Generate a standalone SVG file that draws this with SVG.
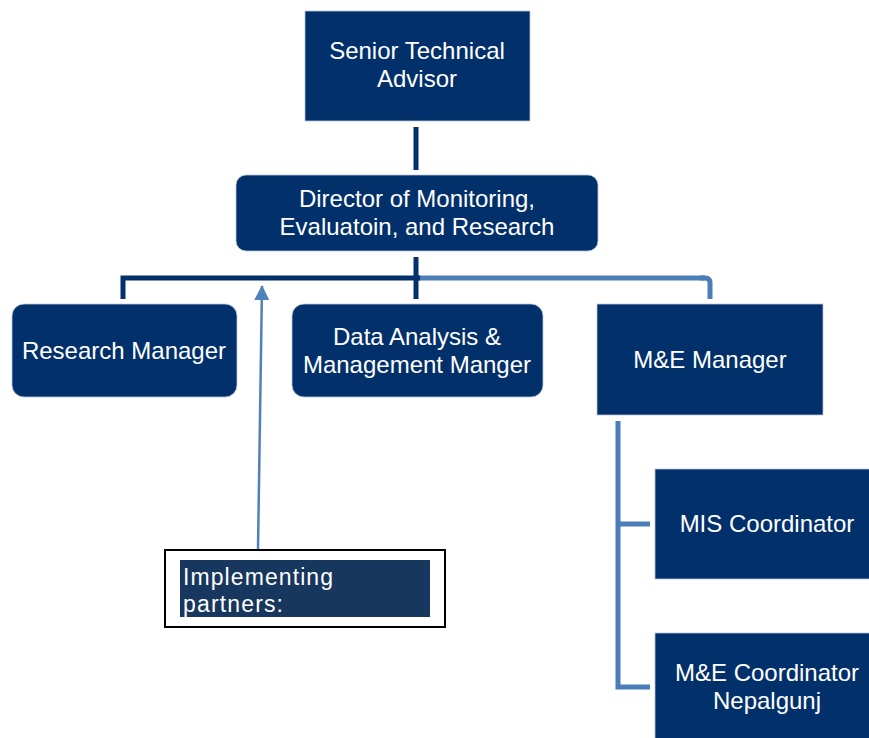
<svg xmlns="http://www.w3.org/2000/svg" width="869" height="738" viewBox="0 0 869 738">
  <style>
    .box { fill: #02306a; stroke: #b8c6da; stroke-width: 0.8; }
    .lbl { font-family: "Liberation Sans", Arial, sans-serif; font-size: 24px; fill: #ffffff; text-anchor: middle; }
    .note { font-family: "Liberation Sans", Arial, sans-serif; font-size: 23px; fill: #ffffff; }
    .dark { fill: none; stroke: #02306a; stroke-width: 5; }
    .light { fill: none; stroke: #4b7db8; stroke-width: 5; }
  </style>
  <defs>
    <marker id="head" markerWidth="15" markerHeight="15" refX="14" refY="7.5" orient="auto" markerUnits="userSpaceOnUse">
      <path d="M0,0 L15,7.5 L0,15 Z" fill="#4f81bd"/>
    </marker>
  </defs>
  <rect width="869" height="738" fill="#ffffff"/>

  <!-- connectors -->
  <g id="connectors">
    <line class="dark" x1="416" y1="127" x2="416" y2="170"/>
    <line class="light" x1="416" y1="278" x2="705" y2="278"/>
    <path class="light" d="M700,278 L705,278 Q710,278 710,283 L710,299" stroke-linejoin="round"/>
    <path class="dark" d="M123,299 L123,278 L420,278"/>
    <line class="dark" x1="416" y1="257" x2="416" y2="299"/>
    <path class="light" d="M650,524 L618,524 M618,421 L618,687 L650,687"/>
    <line x1="258" y1="549" x2="262" y2="286" stroke="#4f81bd" stroke-width="2.5" marker-end="url(#head)"/>
  </g>

  <g id="senior-technical-advisor">
    <rect class="box" x="305" y="11" width="225" height="110"/>
    <text class="lbl" x="417" y="59">Senior Technical</text>
    <text class="lbl" x="417" y="87">Advisor</text>
  </g>

  <g id="director">
    <rect class="box" x="236" y="175" width="362" height="76" rx="10"/>
    <text class="lbl" x="417" y="207">Director of Monitoring,</text>
    <text class="lbl" x="417" y="235">Evaluatoin, and Research</text>
  </g>

  <g id="research-manager">
    <rect class="box" x="12" y="304" width="225" height="93" rx="12"/>
    <text class="lbl" x="124" y="359">Research Manager</text>
  </g>

  <g id="data-analysis-manager">
    <rect class="box" x="292" y="304" width="251" height="93" rx="12"/>
    <text class="lbl" x="417" y="345">Data Analysis &amp;</text>
    <text class="lbl" x="417" y="373">Management Manger</text>
  </g>

  <g id="me-manager">
    <rect class="box" x="597" y="304" width="226" height="111"/>
    <text class="lbl" x="710" y="368">M&amp;E Manager</text>
  </g>

  <g id="mis-coordinator">
    <rect class="box" x="655" y="469" width="226" height="110"/>
    <text class="lbl" x="767" y="532">MIS Coordinator</text>
  </g>

  <g id="me-coordinator-nepalgunj">
    <rect class="box" x="655" y="633" width="226" height="110"/>
    <text class="lbl" x="767" y="681">M&amp;E Coordinator</text>
    <text class="lbl" x="767" y="709">Nepalgunj</text>
  </g>

  <g id="implementing-partners">
    <rect x="165" y="550" width="280" height="77" fill="#ffffff" stroke="#000000" stroke-width="2"/>
    <rect x="180" y="560" width="250" height="57" fill="#17375e"/>
    <text class="note" x="183" y="585" textLength="150" lengthAdjust="spacing">Implementing</text>
    <text class="note" x="183" y="612" textLength="100" lengthAdjust="spacing">partners:</text>
  </g>
</svg>
